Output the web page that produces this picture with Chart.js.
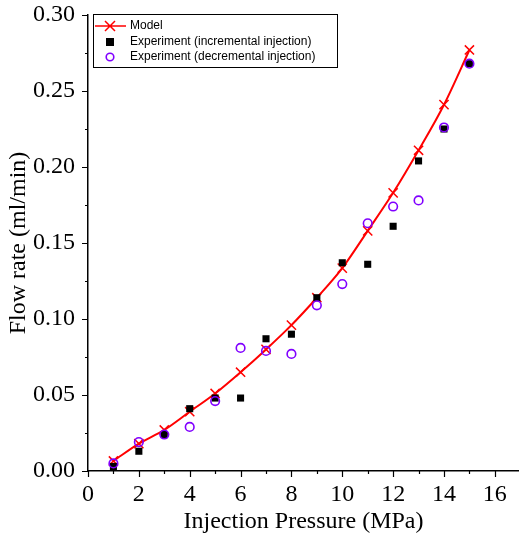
<!DOCTYPE html>
<html>
<head>
<meta charset="utf-8">
<script src="https://cdn.jsdelivr.net/npm/chart.js@4"></script>
<style>
  html, body { margin: 0; padding: 0; background: #fff; }
  #wrap { width: 519px; height: 536px; }
</style>
</head>
<body>
<div id="wrap"><canvas id="flowChart" width="519" height="536"></canvas></div>
<script>
// injection pressure (MPa)
const pressure = [1, 2, 3, 4, 5, 6, 7, 8, 9, 10, 11, 12, 13, 14, 15];
// flow rate (ml/min)
const modelFlow = [0.0066, 0.018, 0.027, 0.039, 0.051, 0.065, 0.080, 0.096, 0.114, 0.1335, 0.158, 0.183, 0.211, 0.241, 0.277];
const incrementalFlow = [0.003, 0.013, 0.024, 0.041, 0.048, 0.048, 0.087, 0.090, 0.114, 0.137, 0.136, 0.161, 0.204, 0.225, 0.268];
const decrementalFlow = [0.005, 0.019, 0.024, 0.029, 0.046, 0.081, 0.079, 0.077, 0.109, 0.123, 0.163, 0.174, 0.178, 0.226, 0.268];

const xTickValues = [0, 2, 4, 6, 8, 10, 12, 14, 16];
const yTickValues = [0, 0.05, 0.10, 0.15, 0.20, 0.25, 0.30];

const serif = '"Liberation Serif", "DejaVu Serif", serif';
const sans = '"Liberation Sans", Arial, sans-serif';

function points(ys) {
  return pressure.map((p, i) => ({ x: p, y: ys[i] }));
}

// outward tick marks, long for labelled values and short in between
const tickMarks = {
  id: 'tickMarks',
  afterDraw(chart) {
    const { ctx, chartArea, scales: { x, y } } = chart;
    ctx.save();
    ctx.strokeStyle = '#000';
    ctx.lineWidth = 1.2;
    ctx.beginPath();
    for (let v = 0; v <= 16; v++) {
      const px = Math.round(x.getPixelForValue(v)) + 0.5;
      const len = v % 2 === 0 ? 6 : 3;
      ctx.moveTo(px, chartArea.bottom);
      ctx.lineTo(px, chartArea.bottom + len);
    }
    for (let i = 0; i <= 12; i++) {
      const py = Math.round(y.getPixelForValue(i * 0.025)) + 0.5;
      const len = i % 2 === 0 ? 6 : 3;
      ctx.moveTo(chartArea.left, py);
      ctx.lineTo(chartArea.left - len, py);
    }
    ctx.stroke();
    ctx.restore();
  }
};

// boxed legend inside the top left of the plot
const boxLegend = {
  id: 'boxLegend',
  afterDraw(chart) {
    const ctx = chart.ctx;
    const left = 93, top = 14, w = 244, h = 53;
    ctx.save();
    ctx.fillStyle = '#fff';
    ctx.fillRect(left, top, w, h);
    ctx.strokeStyle = '#000';
    ctx.lineWidth = 1;
    ctx.strokeRect(left + 0.5, top + 0.5, w, h);
    ctx.font = '12px ' + sans;
    ctx.textBaseline = 'middle';
    const rows = [26, 42, 57];
    const symX = 110;
    chart.data.datasets.forEach((ds, i) => {
      const yy = rows[i];
      if (i === 0) {
        ctx.strokeStyle = ds.borderColor;
        ctx.lineWidth = 1.5;
        ctx.beginPath();
        ctx.moveTo(95, yy); ctx.lineTo(126, yy);
        ctx.moveTo(symX - 5, yy - 5); ctx.lineTo(symX + 5, yy + 5);
        ctx.moveTo(symX - 5, yy + 5); ctx.lineTo(symX + 5, yy - 5);
        ctx.stroke();
      } else if (ds.pointStyle === 'rect') {
        ctx.fillStyle = ds.pointBackgroundColor;
        ctx.fillRect(symX - 4, yy - 4, 8, 8);
      } else {
        ctx.strokeStyle = ds.pointBorderColor;
        ctx.lineWidth = 1.6;
        ctx.beginPath();
        ctx.arc(symX, yy, 3.8, 0, Math.PI * 2);
        ctx.stroke();
      }
      ctx.fillStyle = '#000';
      ctx.fillText(ds.label, 130, yy);
    });
    ctx.restore();
  }
};

new Chart(document.getElementById('flowChart').getContext('2d'), {
  type: 'scatter',
  data: {
    datasets: [
      {
        label: 'Model',
        data: points(modelFlow),
        showLine: true,
        borderColor: '#ff0000',
        borderWidth: 2,
        cubicInterpolationMode: 'monotone',
        pointStyle: 'crossRot',
        pointRadius: 6.5,
        pointBorderWidth: 1.5,
        pointBorderColor: '#ff0000',
        order: 2
      },
      {
        label: 'Experiment (incremental injection)',
        data: points(incrementalFlow),
        pointStyle: 'rect',
        pointRadius: 5,
        pointBackgroundColor: '#000',
        pointBorderColor: '#000',
        pointBorderWidth: 0,
        order: 1
      },
      {
        label: 'Experiment (decremental injection)',
        data: points(decrementalFlow),
        pointStyle: 'circle',
        pointRadius: 4.3,
        pointBackgroundColor: 'rgba(0,0,0,0)',
        pointBorderColor: '#8000ff',
        pointBorderWidth: 1.6,
        order: 0
      }
    ]
  },
  options: {
    responsive: false,
    animation: false,
    layout: { autoPadding: false, padding: { top: 15, right: 0, left: 0, bottom: 0 } },
    plugins: { legend: { display: false }, tooltip: { enabled: false } },
    scales: {
      x: {
        type: 'linear',
        min: 0,
        max: 16.95,
        afterBuildTicks: s => { s.ticks = xTickValues.map(v => ({ value: v })); },
        afterFit: s => { s.height = 65; s.paddingLeft = 0; s.paddingRight = 0; },
        grid: { display: false, drawTicks: false },
        border: { display: true, color: '#000', width: 1.5 },
        ticks: { color: '#000', padding: 9, font: { family: serif, size: 24 }, maxRotation: 0 },
        title: { display: true, text: 'Injection Pressure (MPa)', color: '#000', padding: { top: -9, bottom: 0 }, font: { family: serif, size: 24 } }
      },
      y: {
        type: 'linear',
        min: 0,
        max: 0.30,
        afterBuildTicks: s => { s.ticks = yTickValues.map(v => ({ value: v })); },
        afterFit: s => { s.width = 88; s.paddingTop = 0; s.paddingBottom = 0; },
        grid: { display: false, drawTicks: false },
        border: { display: true, color: '#000', width: 1.5 },
        ticks: { color: '#000', padding: 13, font: { family: serif, size: 24 }, callback: v => v.toFixed(2) },
        title: { display: true, text: 'Flow rate (ml/min)', color: '#000', padding: { top: 4, bottom: 0 }, font: { family: serif, size: 24 } }
      }
    }
  },
  plugins: [tickMarks, boxLegend]
});
</script>
</body>
</html>
